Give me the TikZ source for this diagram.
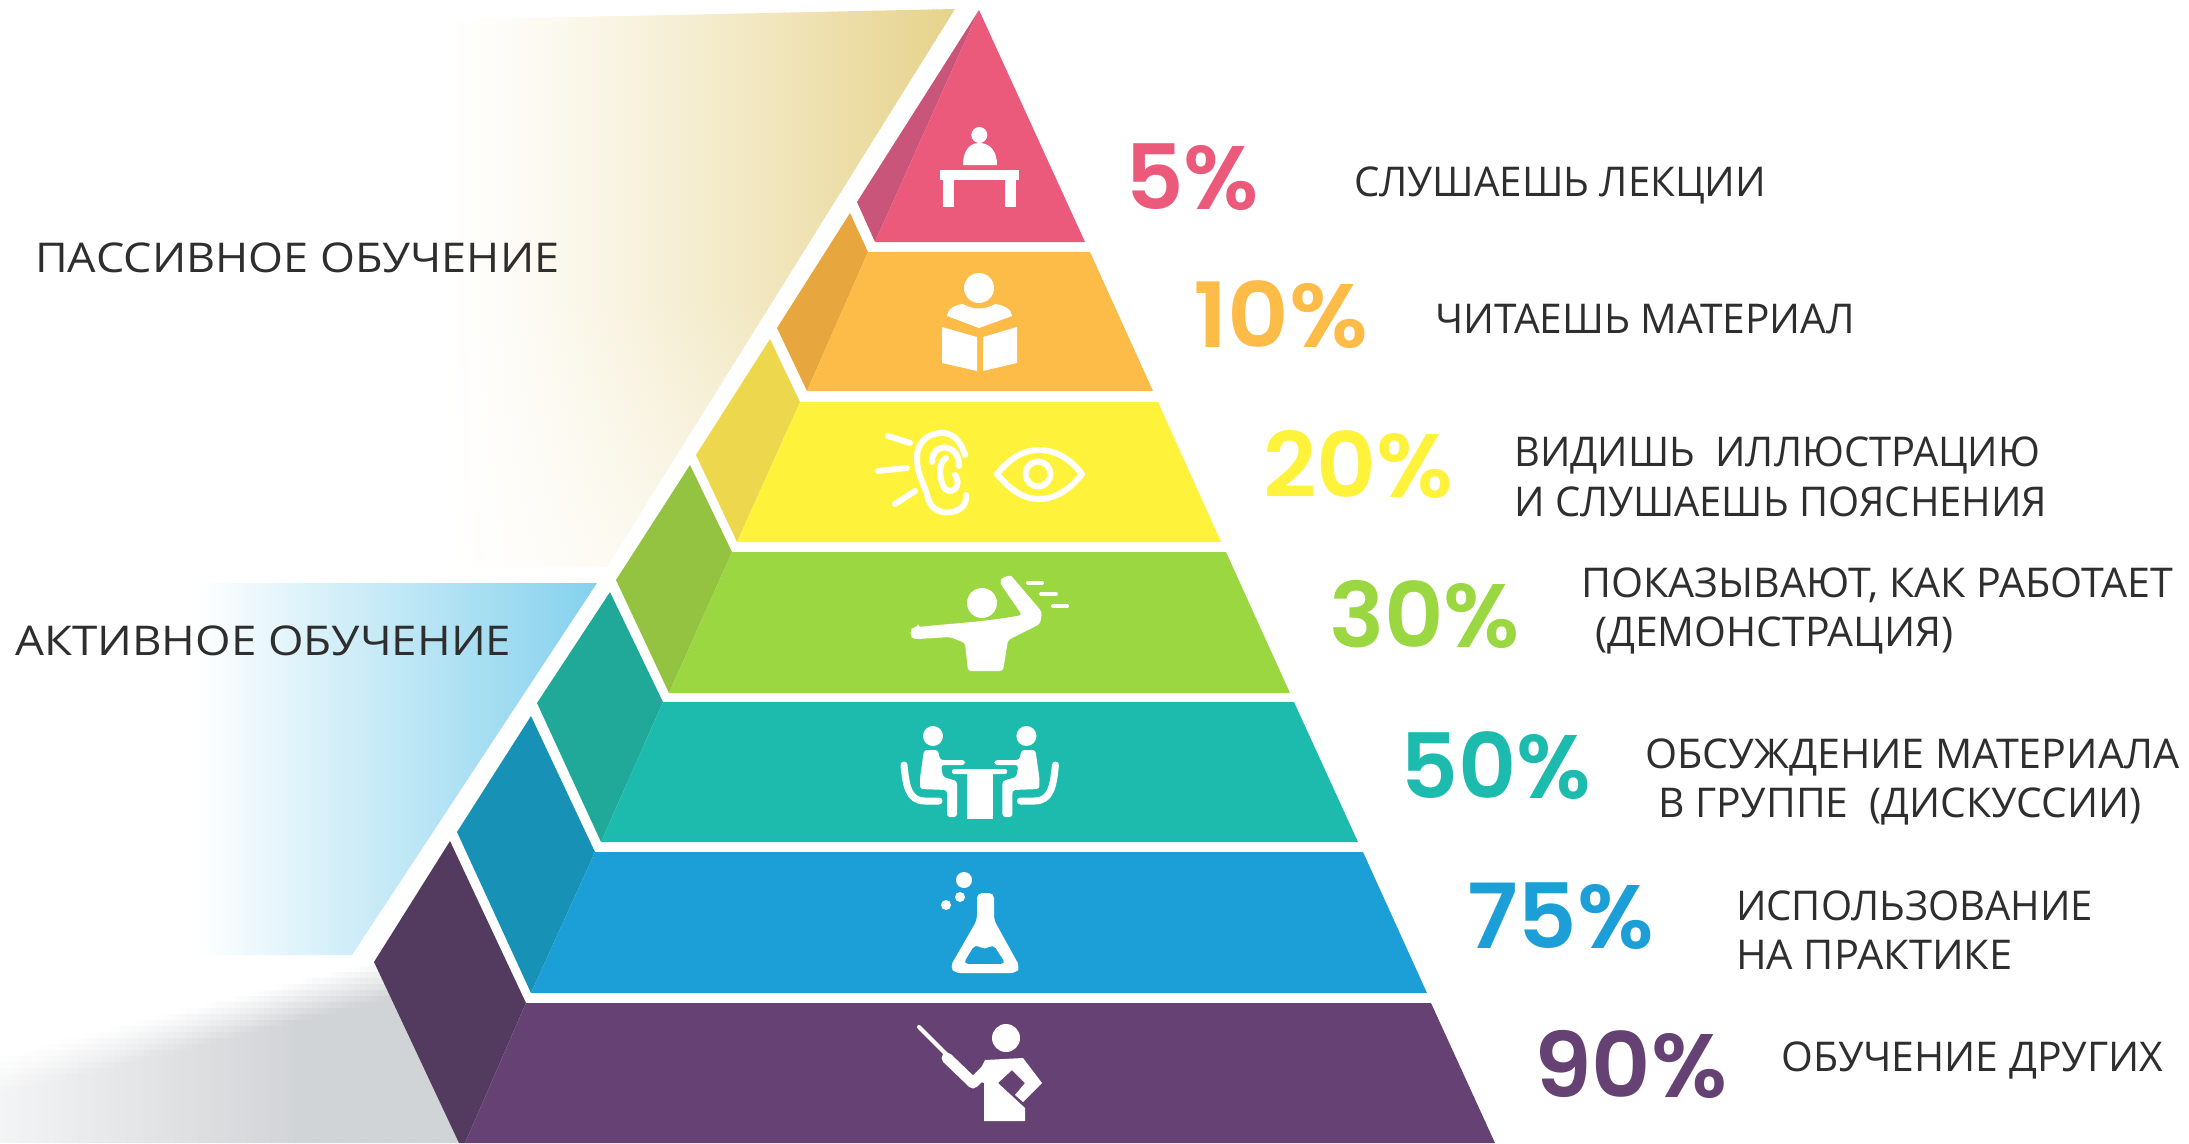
\documentclass[tikz,border=0pt]{standalone}
\usepackage{fontspec}
\setmainfont{Open Sans}
\newfontfamily\pctfont{Poppins}[BoldFont={* SemiBold}]
\definecolor{inkc}{HTML}{2E2E2E}
\definecolor{pinkF}{HTML}{EB5A7B}\definecolor{pinkS}{HTML}{C9557A}
\definecolor{orF}{HTML}{FDBB47}\definecolor{orS}{HTML}{E8A63F}
\definecolor{yeF}{HTML}{FFF23A}\definecolor{yeS}{HTML}{EDD84D}
\definecolor{grF}{HTML}{9AD740}\definecolor{grS}{HTML}{93C340}
\definecolor{teF}{HTML}{1CBBAD}\definecolor{teS}{HTML}{20A998}
\definecolor{blF}{HTML}{1C9FD7}\definecolor{blS}{HTML}{1791B6}
\definecolor{puF}{HTML}{664274}\definecolor{puS}{HTML}{533B5F}
\definecolor{skyC}{HTML}{84D1ED}
\tikzset{
  lab/.style={anchor=base west,inner sep=0pt,text=inkc,font=\fontsize{41}{41}\selectfont},
  pct/.style={anchor=base west,inner sep=0pt,font=\pctfont\bfseries\fontsize{90}{90}\selectfont},
  icon/.style={fill=white,draw=none},
  iconline/.style={draw=white,line cap=round,line join=round,fill=none}
}
\newcommand{\fitw}[2]{\resizebox{#1pt}{\height}{#2}}
\begin{document}
\begin{tikzpicture}[x=1pt,y=-1pt]
\useasboundingbox (0,0) rectangle (2189,1143);
\fill[white] (0,0) rectangle (2189,1143);
% tan wedge: colour field in small overlapping cells
\begin{scope}
\clip (440,20) -- (955,9) -- (607,567) -- (440,567) -- cycle;
\foreach \cx in {440,448,...,960}{
  \pgfmathsetmacro{\hT}{pow(max((\cx+4-440)/515,0.001),1.3)}
  \foreach \cy in {8,16,...,568}{
    \pgfmathsetmacro{\cT}{\hT*(1-0.55*max(min((\cy+4-300)/267,1),0))}
    \pgfmathsetmacro{\cR}{1-\cT*0.098}
    \pgfmathsetmacro{\cG}{1-\cT*0.176}
    \pgfmathsetmacro{\cB}{1-\cT*0.459}
    \fill[color={rgb,1:red,\cR;green,\cG;blue,\cB}] (\cx,\cy) rectangle (\cx+9,\cy+9);
  }
}
\end{scope}
% sky wedge
\shade[left color=white,middle color=skyC!42!white,right color=skyC] (195,583) -- (597,583) -- (352,955) -- (195,955) -- cycle;
% grey floor: colour field in small overlapping cells
\begin{scope}
\clip (0,1055) -- (374,962) -- (459,1143) -- (0,1143) -- cycle;
\foreach \cx in {0,6,...,456}{
  \pgfmathsetmacro{\hT}{0.25+0.75*min((\cx+3)/300,1)}
  \pgfmathsetmacro{\cTop}{962+(374-\cx-3)*0.25}
  \foreach \cy in {960,966,...,1140}{
    \pgfmathsetmacro{\cT}{\hT*max(min((\cy+3-\cTop)/40,1),0)}
    \pgfmathsetmacro{\cR}{1-\cT*0.18}
    \pgfmathsetmacro{\cG}{1-\cT*0.17}
    \pgfmathsetmacro{\cB}{1-\cT*0.16}
    \fill[color={rgb,1:red,\cR;green,\cG;blue,\cB}] (\cx,\cy) rectangle (\cx+7,\cy+7);
  }
}
\end{scope}
% layers: side then front
\fill[pinkS] (979,10) -- (857,202) -- (875,242) -- cycle;
\fill[pinkF] (979,10) -- (1085,242) -- (875,242) -- cycle;
\fill[orS] (850,213) -- (777,328) -- (807,391) -- (868,252) -- cycle;
\fill[orF] (868,252) -- (1090,252) -- (1153,391) -- (807,391) -- cycle;
\fill[yeS] (770,339) -- (696,455) -- (737,542) -- (800,402) -- cycle;
\fill[yeF] (800,402) -- (1158,402) -- (1221,542) -- (737,542) -- cycle;
\fill[grS] (690,465) -- (616,580) -- (669,693) -- (732,552) -- cycle;
\fill[grF] (732,552) -- (1226,552) -- (1290,693) -- (669,693) -- cycle;
\fill[teS] (610,592) -- (537,703) -- (601,842) -- (663,702) -- cycle;
\fill[teF] (663,702) -- (1294,702) -- (1358,842) -- (601,842) -- cycle;
\fill[blS] (531,716) -- (457,832) -- (531,993) -- (595,852) -- cycle;
\fill[blF] (595,852) -- (1363,852) -- (1427,993) -- (531,993) -- cycle;
\fill[puS] (450,841) -- (374,962) -- (459,1143) -- (465,1143) -- (526,1003) -- cycle;
\fill[puF] (526,1003) -- (1431,1003) -- (1495,1143) -- (465,1143) -- cycle;
% desk icon
\fill[icon] (979.3,135) circle (8);
\fill[icon] (963,165) .. controls (963,150) and (970,143) .. (979.3,143) .. controls (989,143) and (997,150) .. (997,165) -- cycle;
\fill[icon] (940,170) rectangle (1019,180);
\fill[icon] (943,180) rectangle (954,207);
\fill[icon] (1005,180) rectangle (1016,207);
% reader icon
\fill[icon] (979,288) circle (15);
\fill[icon] (947,316) .. controls (947,309) and (955,305) .. (963,304) .. controls (973,310) and (985,310) .. (995,304) .. controls (1003,305) and (1012,309) .. (1012,316) -- (979,328) -- cycle;
\fill[icon] (942,327) -- (977,337) -- (977,371) -- (942,363) -- cycle;
\fill[icon] (983,337) -- (1017,327) -- (1017,363) -- (983,371) -- cycle;
% ear icon
\begin{scope}[iconline,line width=6]
\draw (888,436) -- (910,443);
\draw (878,471) -- (907,468);
\draw (895,504) -- (915,491);
\draw (965,455) .. controls (960,438) and (950,432) .. (940,433) .. controls (925,434) and (916,445) .. (917,460) .. controls (918,478) and (925,485) .. (928,498) .. controls (931,510) and (942,514) .. (952,512) .. controls (962,510) and (967,503) .. (966,495);
\draw (932,462) .. controls (932,451) and (940,446) .. (948,448) .. controls (955,450) and (959,456) .. (959,466);
\draw (946,458) .. controls (939,462) and (939,474) .. (942,483) .. controls (944,491) and (950,493) .. (955,489) .. controls (959,485) and (958,479) .. (955,475);
% eye icon
\draw (997,474) .. controls (1012,456) and (1025,450) .. (1039,450) .. controls (1053,450) and (1068,456) .. (1082,474) .. controls (1068,492) and (1053,499) .. (1039,499) .. controls (1025,499) and (1012,492) .. (997,474) -- cycle;
\draw (1038,474) circle (12.5);
\end{scope}
% demonstrator icon
\fill[icon] (982,603) circle (15);
\fill[icon,rounded corners=3] (918,627) .. controls (945,624) and (985,622) .. (1022,615) -- (1002,586) .. controls (998,578) and (1010,574) .. (1014,579) -- (1042,612) -- (1040,624) -- (1008,640) -- (1003,671) -- (968,671) -- (965,643) -- (950,637) -- (918,639) .. controls (909,639) and (909,627) .. (918,627) -- cycle;
\begin{scope}[iconline,line width=4]
\draw (1028,583) -- (1042,583);
\draw (1041,594) -- (1056,594);
\draw (1053,606) -- (1067,606);
\end{scope}
% discussion icon
\fill[icon,rounded corners=2] (952,769) rectangle (1007,774);
\fill[icon] (967,774) rectangle (993,819);
\begin{scope}
\foreach \m/\s in {0/1,1959.4/-1}{
\begin{scope}[xshift=\m pt,xscale=\s]
\fill[icon] (933,736) circle (10);
\fill[icon,rounded corners=3] (924,750) -- (938,750) -- (940,760) -- (965,760) -- (965,765) -- (941,765) -- (943,777) -- (957,781) -- (957,817) -- (947,817) -- (947,790) -- (920,789) -- (920,778) -- cycle;
\draw[iconline,line width=7] (904,765) .. controls (906,785) and (908,801) .. (925,801) -- (939,801);
\end{scope}
}
\end{scope}
% flask icon
\fill[icon] (964,880) circle (8);
\fill[icon] (960,897) circle (5);
\fill[icon] (946,905) circle (5);
\fill[icon,even odd rule,rounded corners=5] (977,893) -- (994,893) -- (994,920) -- (1020,967) -- (1016,973) -- (955,973) -- (950,967) -- (977,920) -- cycle
  (963,964) -- (1006,964) -- (993,944) -- (985,950) -- (975,944) -- cycle;
% teacher icon
\fill[icon] (1006,1038) circle (14);
\draw[iconline,line width=4] (919,1027) -- (947,1055);
\draw[iconline,line width=11] (947,1058) -- (973,1083) -- (990,1066);
\fill[icon] (985,1060) -- (1023,1058) -- (1042,1083) -- (1023,1102) -- (1015,1095) -- (1025,1083) -- (1012,1070) -- (998,1083) -- (1025,1108) -- (1025,1121) -- (984,1121) -- (984,1083) -- (975,1080) -- cycle;
% percents
\node[pct,text=pinkF] (p5) at (1125,209) {\fitw{134}{5\%}};
\node[pct,text=orF] (p10) at (1193,347) {\fitw{175}{10\%}};
\node[pct,text=yeF] (p20) at (1263,497) {\fitw{190}{20\%}};
\node[pct,text=grF] (p30) at (1329,647) {\fitw{191}{30\%}};
\node[pct,text=teF] (p50) at (1400,798) {\fitw{191}{50\%}};
\node[pct,text=blF] (p75) at (1467,948) {\fitw{187}{75\%}};
\node[pct,text=puF] (p90) at (1534,1097) {\fitw{193}{90\%}};
% labels
\node[lab] (t1) at (1354,196) {\fitw{412}{СЛУШАЕШЬ ЛЕКЦИИ}};
\node[lab] (t2) at (1435,333) {\fitw{420}{ЧИТАЕШЬ МАТЕРИАЛ}};
\node[lab] (t3a) at (1514,466) {\fitw{526}{ВИДИШЬ\ \ ИЛЛЮСТРАЦИЮ}};
\node[lab] (t3b) at (1514,516) {\fitw{533}{И СЛУШАЕШЬ ПОЯСНЕНИЯ}};
\node[lab] (t4a) at (1581,597) {\fitw{592}{ПОКАЗЫВАЮТ, КАК РАБОТАЕТ}};
\node[lab] (t4b) at (1595,646) {\fitw{358}{(ДЕМОНСТРАЦИЯ)}};
\node[lab] (t5a) at (1645,768) {\fitw{534}{ОБСУЖДЕНИЕ МАТЕРИАЛА}};
\node[lab] (t5b) at (1658,817) {\fitw{483}{В ГРУППЕ\ \ (ДИСКУССИИ)}};
\node[lab] (t6a) at (1736,920) {\fitw{357}{ИСПОЛЬЗОВАНИЕ}};
\node[lab] (t6b) at (1736,969) {\fitw{276}{НА ПРАКТИКЕ}};
\node[lab] (t7) at (1781,1071) {\fitw{382}{ОБУЧЕНИЕ ДРУГИХ}};
\node[lab] (tp) at (35,272) {\fitw{524}{ПАССИВНОЕ ОБУЧЕНИЕ}};
\node[lab] (ta) at (15,655) {\fitw{496}{АКТИВНОЕ ОБУЧЕНИЕ}};
\end{tikzpicture}
\end{document}
